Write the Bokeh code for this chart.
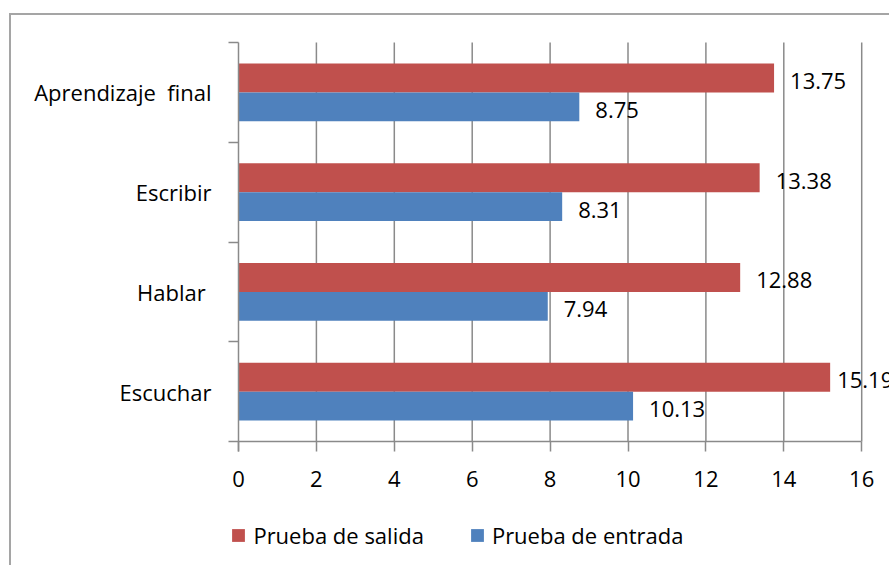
from bokeh.plotting import figure
from bokeh.models import ColumnDataSource, FixedTicker, LabelSet, Legend, LegendItem
from bokeh.core.properties import value
from bokeh.embed import file_html
from bokeh.resources import INLINE

# ---- data ----
categories = ["Escuchar", "Hablar", "Escribir", "Aprendizaje final"]
category_labels = ["Escuchar", "Hablar\u00a0", "Escribir", "Aprendizaje\u00a0 final"]
salida = [15.19, 12.88, 13.38, 13.75]
entrada = [10.13, 7.94, 8.31, 8.75]
x_ticks = [0, 2, 4, 6, 8, 10, 12, 14, 16]
series_names = ["Prueba de salida", "Prueba de entrada"]
colors = ["#C0504D", "#4F81BD"]

FONT = "Open Sans"
GRAY = "#8a8a8a"
BAR_H = 0.29
OFF = 0.145
N = len(categories)

centers = [i + 0.5 for i in range(N)]
bounds = list(range(N + 1))

# label offsets in px (the last red label sits closer to its bar, as in the original)
sal_dx = [7, 16, 16, 16]
ent_dx = [16, 16, 16, 16]

src_sal = ColumnDataSource(dict(
    y=[c + OFF for c in centers], v=salida, t=[f"{v:.2f}" for v in salida], dx=sal_dx))
src_ent = ColumnDataSource(dict(
    y=[c - OFF for c in centers], v=entrada, t=[f"{v:.2f}" for v in entrada], dx=ent_dx))
grid_src = ColumnDataSource(dict(x=x_ticks[1:], y0=[0] * (len(x_ticks) - 1),
                                 y1=[N] * (len(x_ticks) - 1)))

# the frame covers the whole canvas; axes are drawn at fixed data locations
p = figure(width=880, height=552, x_range=(-5.828, 16.765), y_range=(-1.263, 4.271),
           output_backend="svg", toolbar_location=None,
           min_border_left=0, min_border_right=0, min_border_top=0,
           min_border_bottom=0)
p.styles = {"margin-left": "9px", "margin-top": "13px",
            "border-top": "2px solid #a5a5a5", "border-left": "2px solid #a5a5a5"}
p.outline_line_color = None
p.background_fill_color = "white"
p.border_fill_color = "white"

# vertical gridlines at the x ticks, limited to the category area
p.segment(x0="x", x1="x", y0="y0", y1="y1", source=grid_src,
          line_color=GRAY, line_width=1.5)

r_sal = p.hbar(y="y", right="v", left=0, height=BAR_H, source=src_sal,
               fill_color=colors[0], line_color=None)
r_ent = p.hbar(y="y", right="v", left=0, height=BAR_H, source=src_ent,
               fill_color=colors[1], line_color=None)

for src in (src_sal, src_ent):
    p.add_layout(LabelSet(x="v", y="y", text="t", source=src, x_offset="dx", y_offset=-3,
                          text_font=value(FONT), text_font_size="22px",
                          text_color="black", text_baseline="middle",
                          text_align="left"))

# x axis drawn at y = 0
p.xaxis.fixed_location = 0
p.xaxis.ticker = FixedTicker(ticks=x_ticks)
p.xaxis.bounds = (0, 16)
p.xaxis.major_tick_out = 10
p.xaxis.major_tick_in = 0
p.xaxis.minor_tick_out = 0
p.xaxis.axis_line_color = GRAY
p.xaxis.axis_line_width = 1.5
p.xaxis.major_tick_line_color = GRAY
p.xaxis.major_tick_line_width = 1.5
p.xaxis.major_label_text_font = FONT
p.xaxis.major_label_text_font_size = "22px"
p.xaxis.major_label_text_color = "black"
p.xaxis.major_label_standoff = 19

# y axis drawn at x = 0: labels at centers, tick marks at category boundaries
p.yaxis.fixed_location = 0
p.yaxis.bounds = (-0.1, N)
p.yaxis.ticker = FixedTicker(ticks=centers, minor_ticks=bounds)
p.yaxis.major_label_overrides = {c: lab for c, lab in zip(centers, category_labels)}
p.yaxis.major_tick_out = 0
p.yaxis.major_tick_in = 0
p.yaxis.minor_tick_out = 10
p.yaxis.minor_tick_in = 0
p.yaxis.minor_tick_line_color = GRAY
p.yaxis.minor_tick_line_width = 1.5
p.yaxis.axis_line_color = GRAY
p.yaxis.axis_line_width = 1.5
p.yaxis.major_label_text_font = FONT
p.yaxis.major_label_text_font_size = "22px"
p.yaxis.major_label_text_color = "black"
p.yaxis.major_label_standoff = 17

p.xgrid.grid_line_color = None
p.ygrid.grid_line_color = None

legend = Legend(items=[LegendItem(label=series_names[0], renderers=[r_sal]),
                       LegendItem(label=series_names[1], renderers=[r_ent])],
                orientation="horizontal", location=(219.4, 17),
                glyph_width=16, glyph_height=16, label_standoff=7, spacing=45,
                padding=0, margin=0, border_line_color=None,
                background_fill_alpha=0,
                label_text_font=FONT, label_text_font_size="22px",
                label_text_color="black")
p.add_layout(legend, "center")

open("out.html", "w").write(file_html(p, INLINE))
